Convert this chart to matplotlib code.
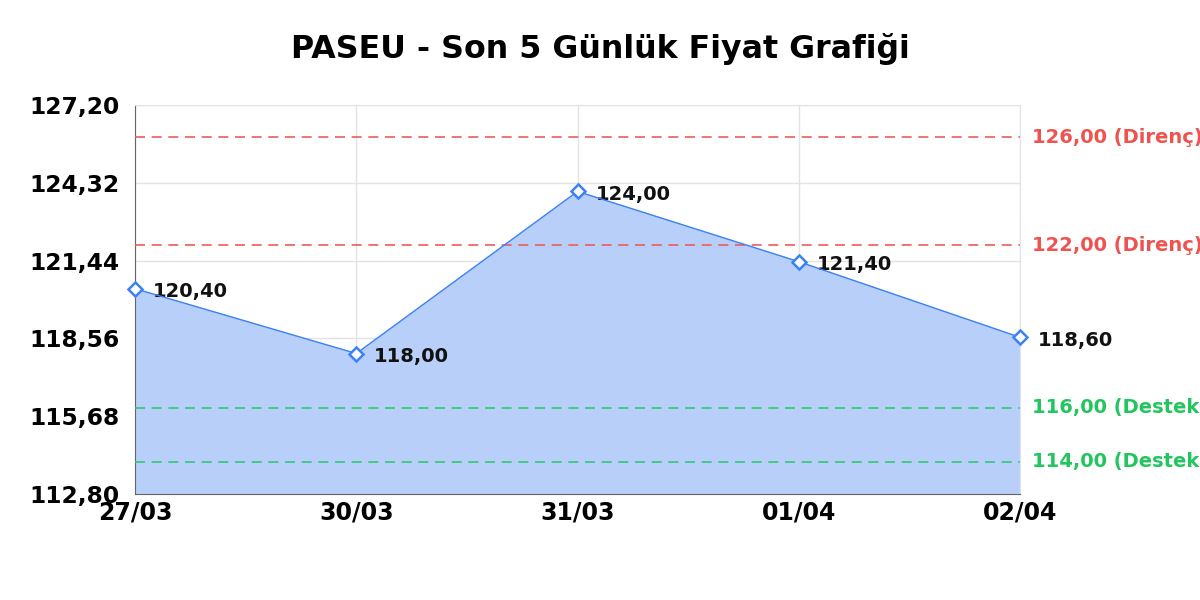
import matplotlib
matplotlib.use("Agg")
import matplotlib.pyplot as plt
from matplotlib.ticker import FixedLocator

plt.rcParams["font.family"] = ["DejaVu Sans"]

dates = ["27/03", "30/03", "31/03", "01/04", "02/04"]
prices = [120.40, 118.00, 124.00, 121.40, 118.60]
yticks = [112.80, 115.68, 118.56, 121.44, 124.32, 127.20]
resistance = [126.00, 122.00]
support = [116.00, 114.00]

def tr(v):
    return f"{v:.2f}".replace(".", ",")

fig = plt.figure(figsize=(12, 6), dpi=100)
ax = fig.add_axes([0.1125, 0.1767, 0.7375, 0.6483])

x = list(range(len(dates)))
ax.fill_between(x, prices, yticks[0], color="#b7cff9", zorder=1)
ax.plot(x, prices, color="#3b82f6", lw=1.0, marker="D", ms=7.5,
        mfc="white", mec="#3b82f6", mew=1.8, zorder=4, clip_on=False)

for xi, p in zip(x, prices):
    ax.annotate(tr(p), (xi, p), xytext=(13, -2), textcoords="offset points",
                fontsize=14, fontweight="bold", va="center", ha="left", color="#111111")

for v in resistance:
    ax.axhline(v, color="#ef5b5b", lw=1.2, ls=(0, (6, 4)), zorder=3)
    ax.annotate(f"{tr(v)} (Direnç)", (1, v), xycoords=("axes fraction", "data"),
                xytext=(9, 0), textcoords="offset points", fontsize=14,
                fontweight="bold", color="#ef5350", va="center", annotation_clip=False)
for v in support:
    ax.axhline(v, color="#2ecc71", lw=1.2, ls=(0, (6, 4)), zorder=3)
    ax.annotate(f"{tr(v)} (Destek)", (1, v), xycoords=("axes fraction", "data"),
                xytext=(9, 0), textcoords="offset points", fontsize=14,
                fontweight="bold", color="#22c55e", va="center", annotation_clip=False)

ax.set_xlim(0, len(dates) - 1)
ax.set_ylim(yticks[0], yticks[-1])
ax.yaxis.set_major_locator(FixedLocator(yticks))
ax.set_yticklabels([tr(v) for v in yticks], fontsize=16.8, fontweight="bold")
ax.set_xticks(x)
ax.set_xticklabels(dates, fontsize=17, fontweight="bold")
ax.tick_params(length=0, pad=11)
ax.tick_params(axis="x", pad=5)
ax.grid(True, color="#e3e3e3", lw=1, zorder=0)
ax.set_axisbelow(True)
for s in ["top", "right"]:
    ax.spines[s].set_color("#e3e3e3")
for s in ["left", "bottom"]:
    ax.spines[s].set_color("#666666")

fig.text(0.5, 0.918, "PASEU - Son 5 Günlük Fiyat Grafiği", fontsize=22.8,
         fontweight="bold", ha="center", va="center")

plt.savefig("out.png", dpi=100)
plt.close()
